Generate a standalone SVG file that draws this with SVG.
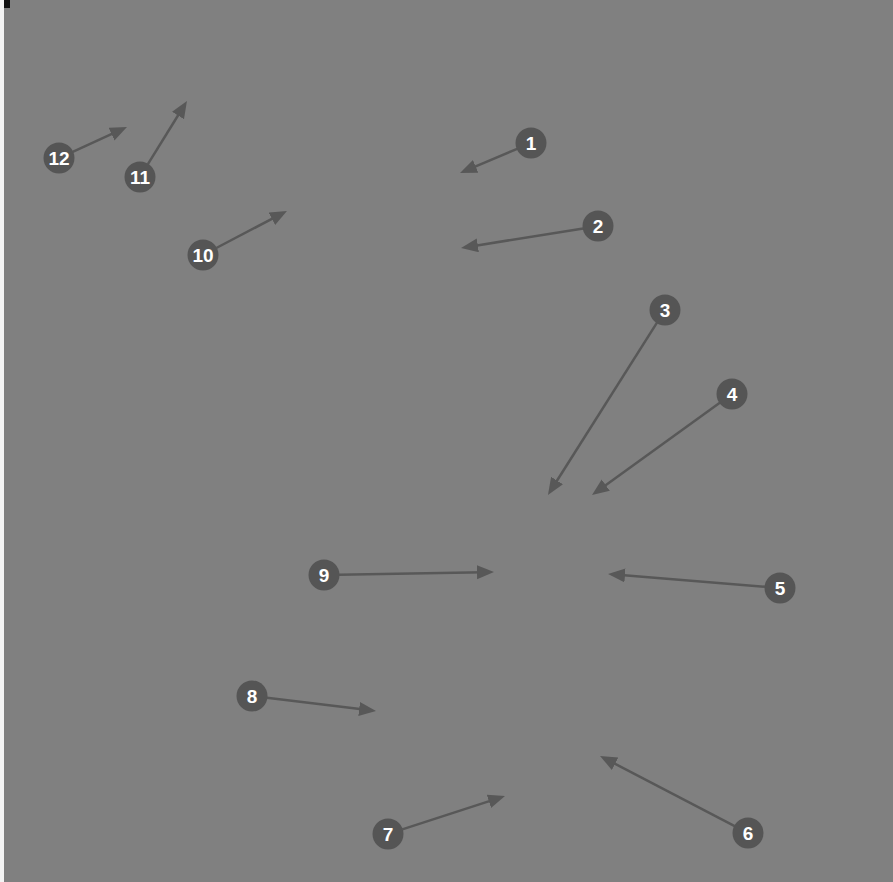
<svg xmlns="http://www.w3.org/2000/svg" width="893" height="882" viewBox="0 0 893 882">
<style>
.n circle{fill:#555555}
.n text{fill:#ffffff;font-family:"Liberation Sans",Arial,sans-serif;font-weight:bold;font-size:19px;text-anchor:middle;dominant-baseline:central}
#connectors line{stroke:#585858;stroke-width:2.5;marker-end:url(#ah)}
</style>
<defs>
<marker id="ah" markerUnits="userSpaceOnUse" markerWidth="20" markerHeight="16" refX="7" refY="7" orient="auto">
<path d="M0,0 L17,7 L0,14 z" fill="#585858"/>
</marker>
</defs>
<rect x="0" y="0" width="893" height="882" fill="#f4f4f4"/>
<rect x="4" y="0" width="889" height="882" fill="#808080"/>
<rect x="4" y="0" width="6" height="8" fill="#111111"/>
<g id="connectors">
<line x1="517.2" y1="148.8" x2="469.2" y2="169.1"/>
<line x1="583.2" y1="228.4" x2="470.9" y2="246.4"/>
<line x1="657" y1="322.7" x2="553.3" y2="486.5"/>
<line x1="719.8" y1="402.8" x2="600.1" y2="489.2"/>
<line x1="765" y1="586.8" x2="618" y2="574.8"/>
<line x1="734.7" y1="826.1" x2="608.9" y2="760.6"/>
<line x1="402.3" y1="829.4" x2="495.5" y2="799.1"/>
<line x1="266.9" y1="697.8" x2="366.1" y2="709.8"/>
<line x1="339" y1="574.7" x2="484" y2="572.2"/>
<line x1="216.3" y1="248" x2="278.1" y2="215.6"/>
<line x1="147.9" y1="164.2" x2="181.7" y2="109.5"/>
<line x1="72.7" y1="151.8" x2="117.9" y2="131.2"/>
</g>
<g id="n1" class="n"><circle cx="531" cy="143" r="15.5"/><text x="531" y="143">1</text></g>
<g id="n2" class="n"><circle cx="598" cy="226" r="15.5"/><text x="598" y="226">2</text></g>
<g id="n3" class="n"><circle cx="665" cy="310" r="15.5"/><text x="665" y="310">3</text></g>
<g id="n4" class="n"><circle cx="732" cy="394" r="15.5"/><text x="732" y="394">4</text></g>
<g id="n5" class="n"><circle cx="780" cy="588" r="15.5"/><text x="780" y="588">5</text></g>
<g id="n6" class="n"><circle cx="748" cy="833" r="15.5"/><text x="748" y="833">6</text></g>
<g id="n7" class="n"><circle cx="388" cy="834" r="15.5"/><text x="388" y="834">7</text></g>
<g id="n8" class="n"><circle cx="252" cy="696" r="15.5"/><text x="252" y="696">8</text></g>
<g id="n9" class="n"><circle cx="324" cy="575" r="15.5"/><text x="324" y="575">9</text></g>
<g id="n10" class="n"><circle cx="203" cy="255" r="15.5"/><text x="203" y="255">10</text></g>
<g id="n11" class="n"><circle cx="140" cy="177" r="15.5"/><text x="140" y="177">11</text></g>
<g id="n12" class="n"><circle cx="59" cy="158" r="15.5"/><text x="59" y="158">12</text></g>
</svg>
